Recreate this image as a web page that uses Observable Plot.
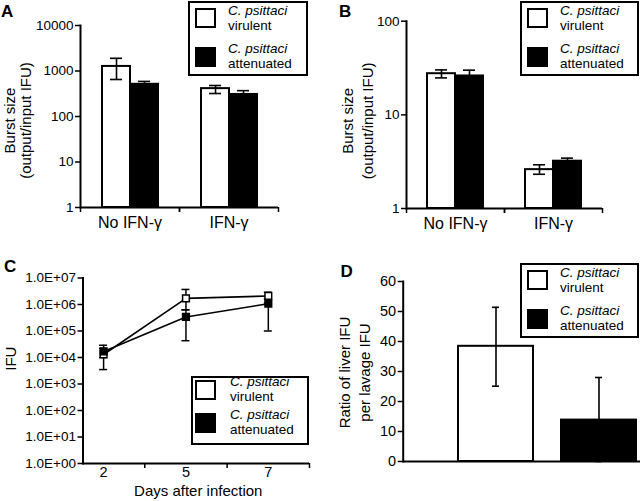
<!DOCTYPE html>
<html>
<head>
<meta charset="utf-8">
<script src="https://cdn.jsdelivr.net/npm/d3@7"></script>
<script src="https://cdn.jsdelivr.net/npm/@observablehq/plot@0.6"></script>
<style>
  html, body { margin: 0; padding: 0; background: #fff; }
  #fig { position: relative; width: 640px; height: 501px; overflow: hidden; background: #fff;
         font-family: "Liberation Sans", Arial, Helvetica, sans-serif; color: #000; }
  .letter { position: absolute; font-weight: bold; font-size: 17px; line-height: 17px; }
  .legend { position: absolute; border: 2px solid #000; background: #fff; box-sizing: border-box; }
  .sw { position: absolute; width: 21px; height: 20px; border: 2px solid #000; box-sizing: border-box; }
  .lt { position: absolute; font-size: 13.5px; line-height: 15px; white-space: nowrap; }
</style>
</head>
<body>
<div id="fig"></div>
<script>
// ---------------- data ----------------
const strains = ["virulent", "attenuated"];
const species = "C. psittaci";
const strainFill = ["#ffffff", "#000000"];
const groupsAB = ["No IFN-γ", "IFN-γ"];

// Panel A (log scale burst size)
const aVirulent = [1260, 410];
const aVirulentLo = [650, 320];
const aVirulentHi = [1900, 480];
const aAttenuated = [510, 305];
const aAttenuatedLo = [440, 250];
const aAttenuatedHi = [590, 370];
const aTicks = [1, 10, 100, 1000, 10000];
const aTickLabels = ["1", "10", "100", "1000", "10000"];
const aYLabel = "Burst size\n(output/input IFU)";

// Panel B
const bVirulent = [27.5, 2.6];
const bVirulentLo = [24.8, 2.32];
const bVirulentHi = [30.2, 2.93];
const bAttenuated = [26, 3.2];
const bAttenuatedLo = [22, 2.95];
const bAttenuatedHi = [30, 3.45];
const bTicks = [1, 10, 100];
const bTickLabels = ["1", "10", "100"];
const bYLabel = "Burst size\n(output/input IFU)";

// Panel C (time course)
const days = ["2", "5", "7"];
const cVirulent = [1.3e4, 1.7e6, 2.1e6];
const cVirulentLo = [3.5e3, 6.3e5, 1.1e6];
const cVirulentHi = [2.2e4, 3.7e6, 2.9e6];
const cAttenuated = [1.7e4, 3.4e5, 1.07e6];
const cAttenuatedLo = [1.0e4, 4.3e4, 1.0e5];
const cAttenuatedHi = [2.9e4, 6.3e5, 1.6e6];
const cTicks = [1, 10, 100, 1e3, 1e4, 1e5, 1e6, 1e7];
const cTickLabels = ["1.0E+00", "1.0E+01", "1.0E+02", "1.0E+03", "1.0E+04", "1.0E+05", "1.0E+06", "1.0E+07"];
const cYLabel = "IFU";
const cXLabel = "Days after infection";

// Panel D
const dValues = [38.4, 13.8];
const dLo = [25.1, 0];
const dHi = [51.4, 28];
const dTicks = [0, 10, 20, 30, 40, 50, 60];
const dYLabel = "Ratio of liver IFU\nper lavage IFU";

// ---------------- helpers ----------------
const FONT = '"Liberation Sans", Arial, Helvetica, sans-serif';
const fig = document.getElementById("fig");
const baseStyle = {fontFamily: FONT, fontSize: "13.5px", color: "#000", background: "transparent", overflow: "visible"};

function place(node, left, top) {
  node.style.position = "absolute";
  node.style.left = left + "px";
  node.style.top = top + "px";
  fig.appendChild(node);
}

function groupRows(groups, strain, v, lo, hi) {
  return groups.map((g, i) => ({group: g, strain, value: v[i], lo: lo[i], hi: hi[i]}));
}

function barChart(o) {
  const fw = (o.width - o.ml - o.mr) / o.groups.length;
  const fmt = d => o.tickLabels[o.ticks.indexOf(d)];
  return Plot.plot({
    width: o.width, height: o.height,
    marginLeft: o.ml, marginRight: o.mr, marginTop: o.mt, marginBottom: o.mb,
    style: baseStyle,
    fx: {domain: o.groups, padding: 0},
    x: {domain: strains, paddingInner: 0, paddingOuter: 0.74, axis: null},
    y: {type: "log", domain: o.yDomain},
    color: {domain: strains, range: strainFill},
    marks: [
      Plot.barY(o.data, {fx: "group", x: "strain", y1: o.yDomain[0], y2: "value", fill: "strain", stroke: "#000", strokeWidth: 2}),
      Plot.ruleX(o.data, {fx: "group", x: "strain", y1: "lo", y2: "hi", stroke: "#000", strokeWidth: 1.6}),
      Plot.tickY(o.data, {fx: "group", x: "strain", y: "hi", insetLeft: 8, insetRight: 8, stroke: "#000", strokeWidth: 1.6}),
      Plot.tickY(o.data, {fx: "group", x: "strain", y: "lo", insetLeft: 8, insetRight: 8, stroke: "#000", strokeWidth: 1.6}),
      Plot.ruleY([o.yDomain[0]], {stroke: "#000", strokeWidth: 2}),
      Plot.frame({anchor: "left", facetAnchor: "left", stroke: "#000", strokeWidth: 2}),
      Plot.axisY({ticks: o.ticks, tickFormat: fmt, tickSize: 5, tickPadding: 2, fontSize: 13.5, strokeWidth: 1.5, label: null}),
      Plot.axisFx({anchor: "bottom", tickSize: 0, tickPadding: 9.5, fontSize: 16, label: null}),
      Plot.axisFx({anchor: "bottom", tickSize: 5, tickFormat: () => "", dx: -fw / 2, strokeWidth: 1.5, label: null}),
      Plot.axisFx({anchor: "bottom", tickSize: 5, tickFormat: () => "", dx: fw / 2, strokeWidth: 1.5, label: null}),
      Plot.text([o.ylabel], {fx: () => o.groups[0], frameAnchor: "left", rotate: -90, dx: o.labelDx, dy: o.labelDy,
        fontSize: 15, lineHeight: o.lh / 15, textAnchor: "middle", lineAnchor: "middle", fill: "#000"})
    ]
  });
}

function legend(left, top, w, h, lay) {
  const box = document.createElement("div");
  box.className = "legend";
  Object.assign(box.style, {left: left + "px", top: top + "px", width: w + "px", height: h + "px"});
  strains.forEach((s, k) => {
    const sw = document.createElement("div");
    sw.className = "sw";
    Object.assign(sw.style, {left: (lay.swX - 2) + "px", top: (lay.swY[k] - 2) + "px", background: strainFill[k]});
    const tx = document.createElement("div");
    tx.className = "lt";
    Object.assign(tx.style, {left: (lay.tX - 2) + "px", top: (lay.tY[k] - 2) + "px"});
    const it = document.createElement("i");
    it.textContent = species;
    tx.appendChild(it);
    tx.appendChild(document.createElement("br"));
    tx.appendChild(document.createTextNode(s));
    box.append(sw, tx);
  });
  fig.appendChild(box);
}

function letter(t, left, top) {
  const d = document.createElement("div");
  d.className = "letter";
  d.textContent = t;
  d.style.left = left + "px";
  d.style.top = top + "px";
  fig.appendChild(d);
}

// ---------------- Panel A ----------------
const aData = [
  ...groupRows(groupsAB, "virulent", aVirulent, aVirulentLo, aVirulentHi),
  ...groupRows(groupsAB, "attenuated", aAttenuated, aAttenuatedLo, aAttenuatedHi)
];
place(barChart({data: aData, groups: groupsAB, yDomain: [1, 10000], ticks: aTicks, tickLabels: aTickLabels,
  ylabel: aYLabel, width: 320, height: 250, ml: 80, mr: 42, mt: 25, mb: 43, labelDx: -63, labelDy: 4, lh: 16}), 0, 0);

// ---------------- Panel B ----------------
const bData = [
  ...groupRows(groupsAB, "virulent", bVirulent, bVirulentLo, bVirulentHi),
  ...groupRows(groupsAB, "attenuated", bAttenuated, bAttenuatedLo, bAttenuatedHi)
];
place(barChart({data: bData, groups: groupsAB, yDomain: [1, 100], ticks: bTicks, tickLabels: bTickLabels,
  ylabel: bYLabel, width: 320, height: 250, ml: 86, mr: 38, mt: 20.7, mb: 42, labelDx: -50, labelDy: 6, lh: 20}), 320, 0);

// ---------------- Panel C ----------------
const cData = [
  ...days.map((d, i) => ({i, day: d, strain: "virulent", value: cVirulent[i], lo: cVirulentLo[i], hi: cVirulentHi[i]})),
  ...days.map((d, i) => ({i, day: d, strain: "attenuated", value: cAttenuated[i], lo: cAttenuatedLo[i], hi: cAttenuatedHi[i]}))
];
const cIdx = d3.range(days.length);
const cMid = cIdx.map(i => i + 0.5);
const cFmt = d => cTickLabels[cTicks.indexOf(d)];
place(Plot.plot({
  width: 320, height: 251, marginLeft: 82.5, marginRight: 11, marginTop: 27.5, marginBottom: 38,
  style: baseStyle,
  x: {domain: [-0.25, days.length - 0.5]},
  y: {type: "log", domain: [1, 1e7]},
  color: {domain: strains, range: strainFill},
  marks: [
    Plot.ruleX(cData, {x: "i", y1: "lo", y2: "hi", stroke: "#000", strokeWidth: 1.5}),
    Plot.ruleY(cData, {x1: "i", x2: "i", y: "hi", insetLeft: -4, insetRight: -4, stroke: "#000", strokeWidth: 1.5}),
    Plot.ruleY(cData, {x1: "i", x2: "i", y: "lo", insetLeft: -4, insetRight: -4, stroke: "#000", strokeWidth: 1.5}),
    Plot.line(cData, {x: "i", y: "value", z: "strain", stroke: "#000", strokeWidth: 1.6}),
    Plot.dot(cData, {x: "i", y: "value", symbol: "square", r: 3.8, fill: "strain", stroke: "#000", strokeWidth: 1.5}),
    Plot.ruleY([1], {stroke: "#000", strokeWidth: 2}),
    Plot.frame({anchor: "left", stroke: "#000", strokeWidth: 2}),
    Plot.axisY({ticks: cTicks, tickFormat: cFmt, tickSize: 5, tickPadding: 2, fontSize: 13.5, strokeWidth: 1.5, label: null}),
    Plot.axisX({ticks: cMid, tickSize: 5, tickFormat: () => "", strokeWidth: 1.5, label: null}),
    Plot.axisX({ticks: cIdx, tickSize: 0, tickPadding: 3.7, tickFormat: i => days[i], fontSize: 14.5, label: null}),
    Plot.text([cXLabel], {frameAnchor: "bottom", lineAnchor: "top", dy: 21.4, dx: 2, fontSize: 15, fill: "#000"}),
    Plot.text([cYLabel], {frameAnchor: "left", rotate: -90, dx: -72.3, fontSize: 15, fill: "#000"})
  ]
}), 0, 250);

// ---------------- Panel D ----------------
const dData = strains.map((s, i) => ({strain: s, value: dValues[i], lo: dLo[i], hi: dHi[i]}));
place(Plot.plot({
  width: 320, height: 251, marginLeft: 82.7, marginRight: 0, marginTop: 31, marginBottom: 40,
  style: baseStyle,
  x: {domain: strains, paddingInner: 0.27, paddingOuter: 0.285, align: 0.935, axis: null},
  y: {domain: [0, 60]},
  color: {domain: strains, range: strainFill},
  marks: [
    Plot.barY(dData, {x: "strain", y: "value", fill: "strain", stroke: "#000", strokeWidth: 2}),
    Plot.ruleX(dData, {x: "strain", y1: "lo", y2: "hi", stroke: "#000", strokeWidth: 1.6}),
    Plot.tickY(dData, {x: "strain", y: "hi", insetLeft: 34, insetRight: 34, stroke: "#000", strokeWidth: 1.6}),
    Plot.tickY(dData, {x: "strain", y: "lo", insetLeft: 34, insetRight: 34, stroke: "#000", strokeWidth: 1.6}),
    Plot.ruleY([0], {stroke: "#000", strokeWidth: 2}),
    Plot.frame({anchor: "left", stroke: "#000", strokeWidth: 2}),
    Plot.axisY({ticks: dTicks, tickSize: 5, tickPadding: 2, fontSize: 14.5, strokeWidth: 1.5, label: null}),
    Plot.text([dYLabel], {frameAnchor: "left", rotate: -90, dx: -50, dy: 1, fontSize: 15, lineHeight: 20 / 15,
      textAnchor: "middle", lineAnchor: "middle", fill: "#000"})
  ]
}), 320, 250);

// ---------------- legends & panel letters ----------------
const layStd = {swX: 7, swY: [7, 46], tX: 40, tY: [2, 40]};
legend(188, 1, 120, 75, layStd);
legend(520, 1, 119, 75, layStd);
legend(520, 263, 119, 75, layStd);
legend(191, 376, 118, 69, {swX: 4, swY: [4, 37], tX: 39, tY: [-2, 31]});

letter("A", 1, 2.6);
letter("B", 339, 2.6);
letter("C", 4, 257.6);
letter("D", 340.5, 262.6);
</script>
</body>
</html>
